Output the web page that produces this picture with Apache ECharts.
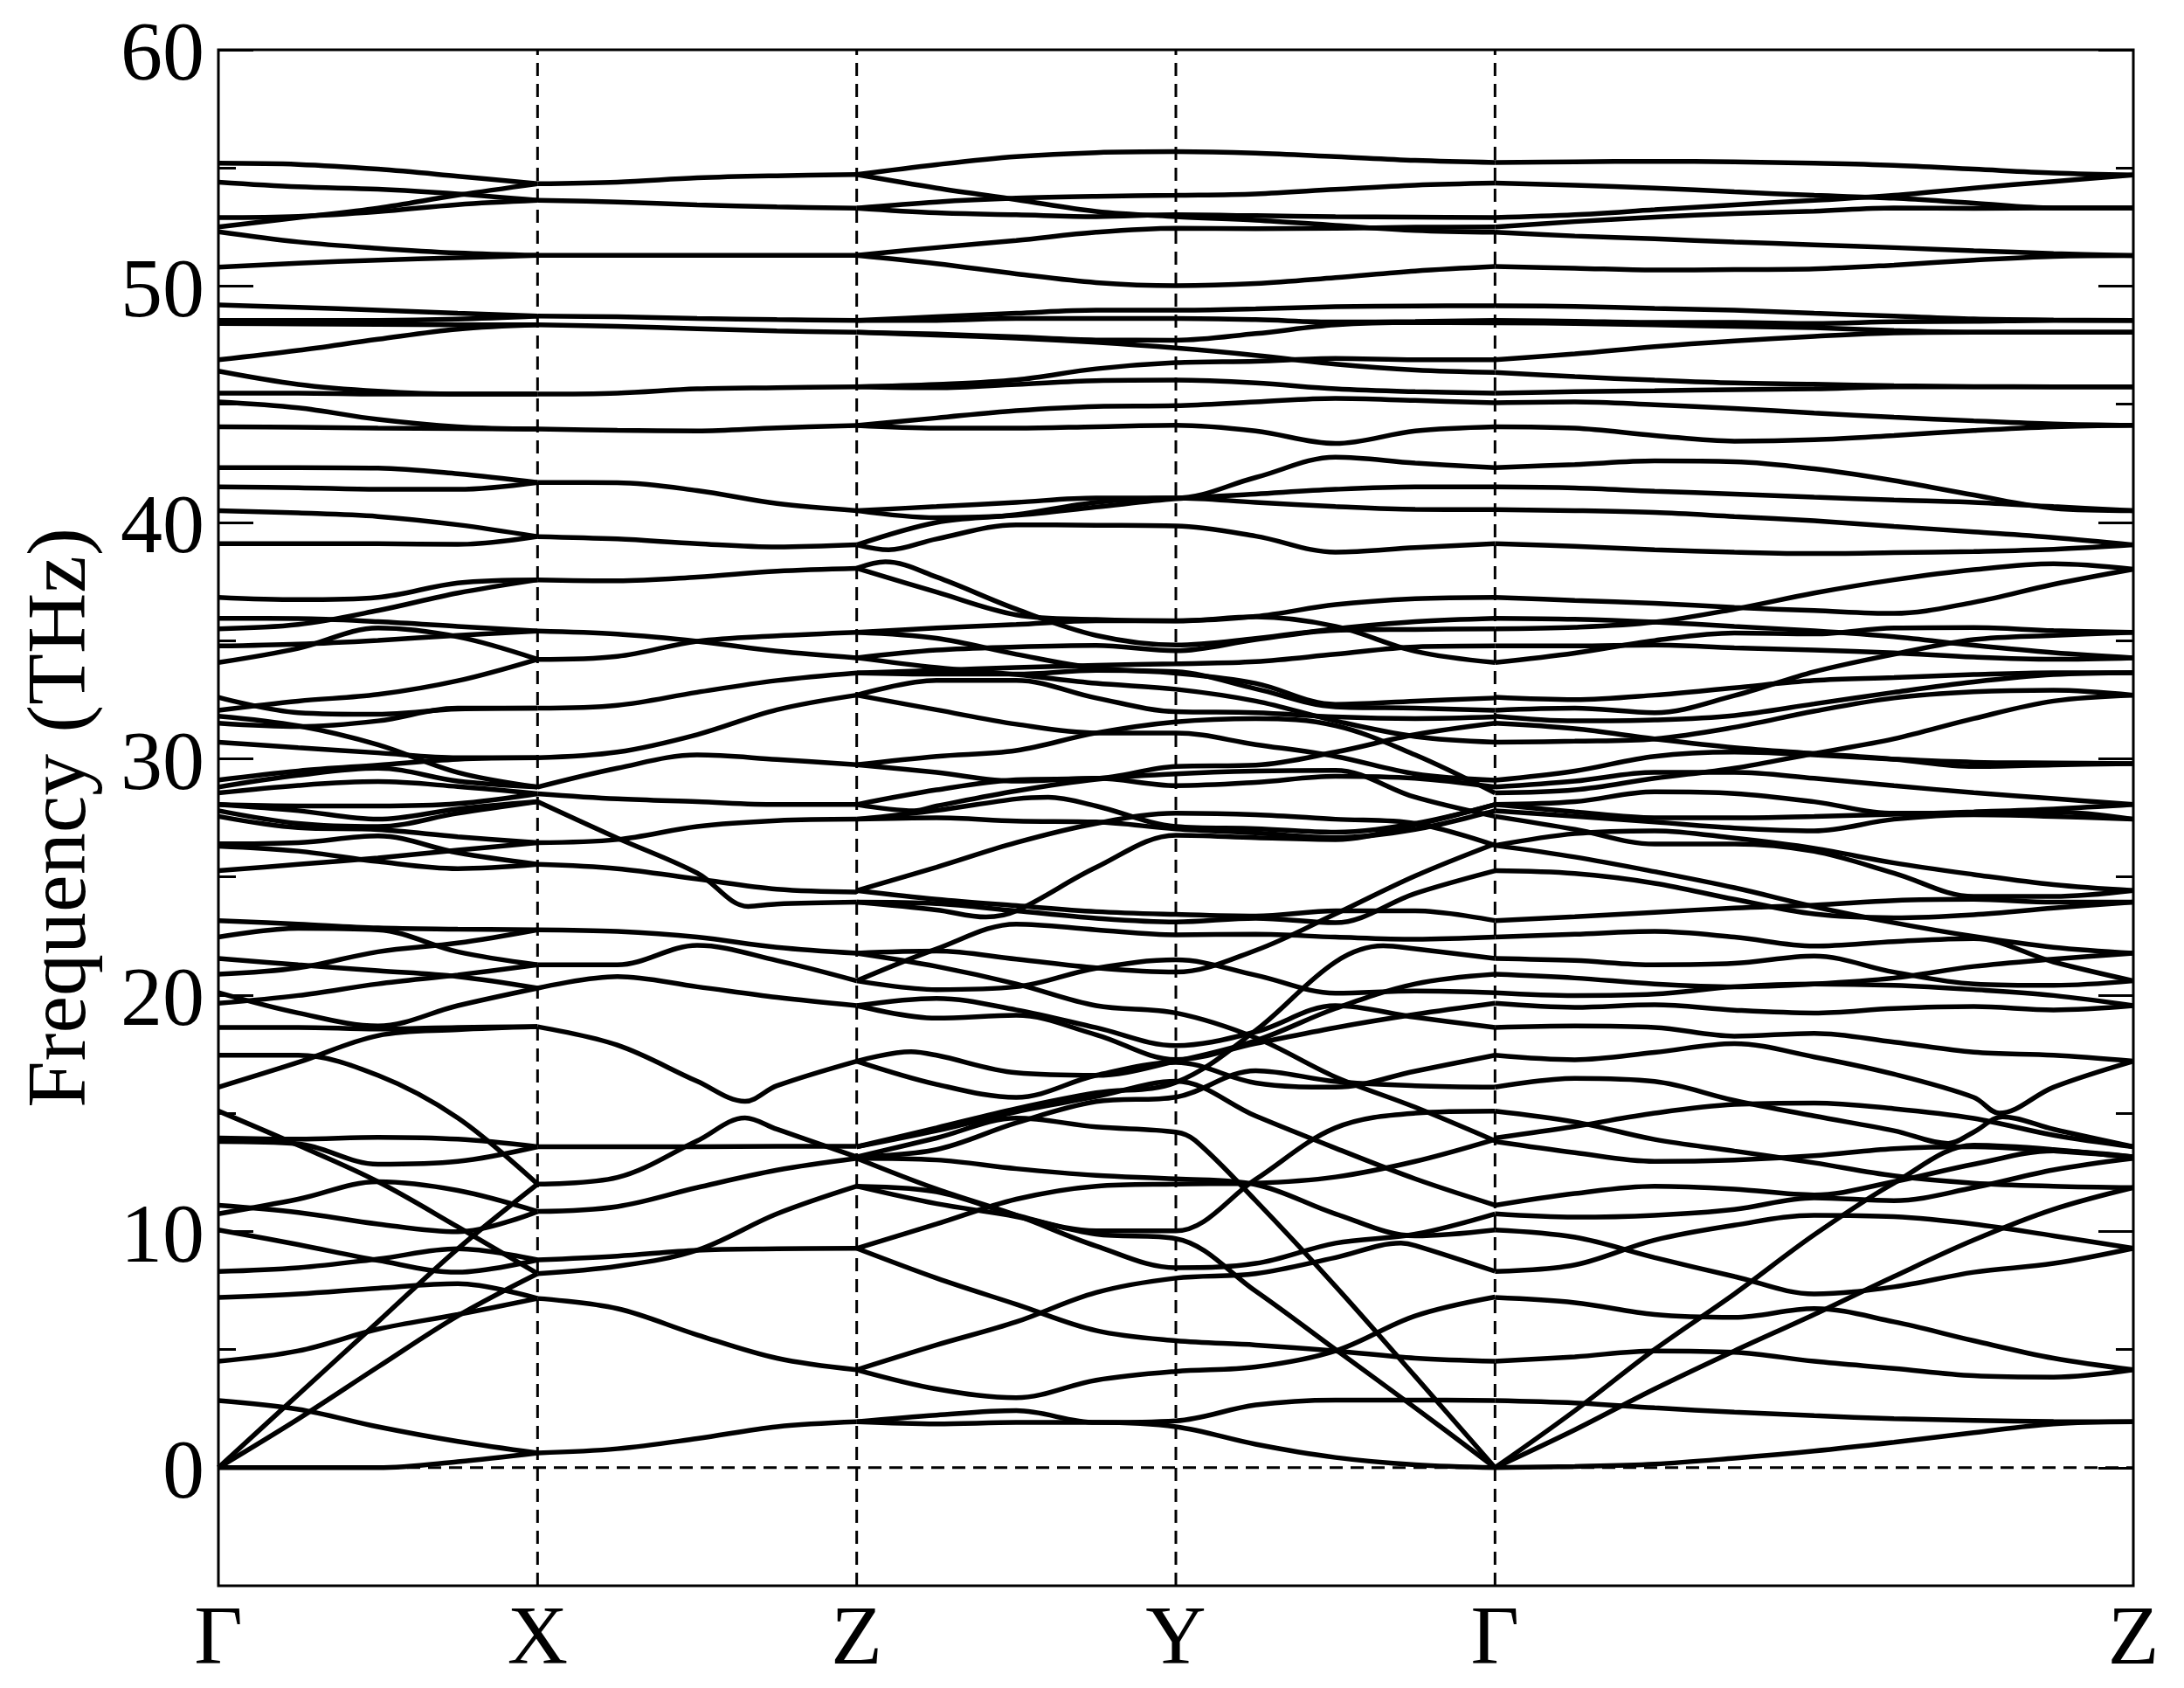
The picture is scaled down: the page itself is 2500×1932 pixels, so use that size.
<!DOCTYPE html>
<html lang="en">
<head>
	<meta charset="UTF-8">
	<title>Phonon band structure</title>
	<style>
		html,body{margin:0;padding:0;background:#fff;}
	</style>
</head>
<body>
	<div id="bands" style="width:2500px;height:1932px;"></div>
<script src="https://cdn.jsdelivr.net/npm/echarts@6/dist/echarts.min.js"></script>
<script>
	var kTicks=[0,1,2,3,4,6];
	var kLabels=['Γ','X','Z','Y','Γ','Z'];
	var yMajor=[0,10,20,30,40,50,60];
	var yMinor=[5,15,25,35,45,55];

	// every row is one curve, one value per quarter of a k step
	// a [k,value] pair is an extra point between two grid steps (sharp bends)
	var gammaX=[
		[55.2,55.15,54.95,54.65,54.33],
		[54.4,54.2,54.1,53.9,53.63],
		[52.9,52.95,53.15,53.45,53.63],
		[52.5,52.9,53.3,53.85,54.33],
		[52.3,51.87,51.6,51.4,51.3],
		[50.8,50.97,51.1,51.2,51.3],
		[49.2,49.1,48.98,48.85,48.73],
		[48.55,48.55,48.55,48.6,48.73],
		[48.42,48.4,48.38,48.36,48.36],
		[46.88,47.28,47.75,48.18,48.36],
		[46.4,45.84,45.55,45.43,45.43],
		[45.47,45.47,45.43,45.43,45.43],
		[45.1,44.85,44.36,44.05,43.95],
		[44.05,44.03,43.99,43.97,43.95],
		[42.32,42.32,42.3,42.06,41.69],
		[41.5,41.47,41.4,41.4,41.69],
		[40.5,40.4,40.25,39.9,39.4],
		[39.1,39.1,39.1,39.07,39.4],
		[36.83,36.73,36.83,37.44,37.57],
		[35.5,35.68,36.27,37.01,37.57],
		[35.94,35.93,35.8,35.6,35.4],
		[34.77,34.85,35.01,35.22,35.4],
		[34.07,34.67,35.53,35.16,34.21],
		[32.05,32.44,32.72,33.3,34.21],
		[32.6,31.95,31.88,32.1,32.14],
		[31.5,31.36,31.6,32.14,32.14],
		[31.8,31.39,30.59,29.42,28.8],
		[30.7,30.47,30.25,30.04,30.04],
		[29.1,29.48,29.73,29.98,30.04],
		[28.8,29.3,29.6,29.05,28.8],
		[28.55,28.87,29.03,28.82,28.52],
		[28.06,28.0,28.0,28.1,28.52],
		[28.06,27.8,27.44,27.87,28.18],
		[27.8,27.26,27.13,27.69,28.18],
		[27.56,27.08,27.0,26.7,26.45],
		[25.26,25.53,25.8,26.13,26.45],
		[26.4,26.45,26.73,26.02,25.53],
		[26.3,26.09,25.65,25.35,25.53],
		[23.15,23.0,22.84,22.79,22.76],
		[20.88,21.15,21.83,22.2,22.76],
		[22.45,22.82,22.76,21.83,21.28],
		[19.65,19.98,20.47,20.85,21.28],
		[21.55,21.28,21.03,20.78,20.29],
		[20.1,19.24,18.69,19.55,20.29],
		[18.63,18.63,18.56,18.63,18.66],
		[16.1,17.15,18.28,18.53,18.66],
		[17.45,17.45,16.6,14.8,12.0],
		[0,3.09,6.17,9.26,12.0],
		[15.09,13.64,12.1,10.19,8.21],
		[0,2.06,4.26,6.42,8.21],
		[13.95,13.9,13.98,13.9,13.58],
		[13.8,13.7,12.84,12.96,13.58],
		[11.1,10.8,10.31,9.98,10.84],
		[10.74,11.36,12.1,11.73,10.84],
		[10.06,9.44,8.77,8.27,8.79],
		[8.3,8.46,8.83,9.26,8.79],
		[7.2,7.35,7.59,7.78,7.16],
		[4.5,4.94,5.86,6.48,7.16],
		[2.84,2.47,1.73,1.11,0.62],
		[0,0,0,0.25,0.62]
	];

	var xZ=[
		[54.33,54.4,54.58,54.67,54.72],
		[53.63,53.56,53.44,53.35,53.3],
		[51.3,51.3,51.3,51.3,51.3],
		[48.73,48.7,48.63,48.58,48.55],
		[48.36,48.3,48.2,48.1,48.05],
		[45.43,45.47,45.65,45.7,45.74],
		[43.95,43.9,43.87,44.0,44.1],
		[41.69,41.68,41.35,40.8,40.5],
		[39.4,39.3,39.1,38.96,39.05],
		[37.57,37.53,37.69,37.94,38.06],
		[35.4,35.27,34.97,34.55,34.27],
		[34.2,34.33,34.97,35.2,35.35],
		[32.14,32.26,32.81,33.31,33.63],
		[30.04,30.28,31.02,32.07,32.69],
		[28.8,29.6,30.16,29.97,29.75],
		[28.52,28.3,28.18,28.06,28.06],
		[28.18,26.64,25.16,[1.66,23.75],23.85,23.93],
		[26.45,26.58,27.13,27.38,27.44],
		[25.53,25.35,24.91,24.48,24.36],
		[22.76,22.69,22.45,22.02,21.77],
		[21.28,21.28,22.1,21.46,20.6],
		[20.29,20.78,20.35,19.9,19.55],
		[18.66,17.88,16.35,[1.65,15.5],16.16,17.2],
		[12,12.28,13.83,[1.65,14.8],14.32,13.15],
		[8.21,8.52,9.2,10.74,11.91],
		[10.84,11.05,11.85,12.59,13.09],
		[8.79,8.95,9.2,9.26,9.28],
		[7.16,6.73,5.62,4.63,4.14],
		[13.58,13.58,13.58,13.6,13.6],
		[0.62,0.8,1.23,1.73,1.94]
	];

	var zYGamma=[
		[54.72,55.14,55.48,55.65,55.69,55.63,55.48,55.32,55.23],
		[54.72,54.15,53.66,53.16,52.94,52.79,52.57,52.36,52.28],
		[53.3,53.56,53.72,53.8,53.84,53.9,54.09,54.27,54.36],
		[53.3,53.1,53.02,52.94,53.02,52.98,52.94,52.92,52.9],
		[51.3,51.63,51.93,52.28,52.45,52.43,52.45,52.49,52.5],
		[51.3,50.95,50.52,50.15,50.02,50.11,50.36,50.64,50.83],
		[48.55,48.7,48.85,48.98,48.98,49.04,49.13,49.16,49.17],
		[48.55,48.55,48.63,48.63,48.63,48.58,48.48,48.5,48.55],
		[48.05,47.93,47.8,47.62,47.38,47.07,46.7,46.45,46.35],
		[48.05,47.97,47.85,47.72,47.71,47.99,48.36,48.46,48.45],
		[45.74,45.84,46.03,46.5,46.76,46.82,46.94,46.88,46.88],
		[45.74,45.7,45.84,46.0,46.02,45.9,45.65,45.53,45.47],
		[44.1,44.42,44.73,44.91,44.94,45.1,45.25,45.16,45.06],
		[44.1,43.99,43.99,44.05,44.11,43.87,43.34,43.87,44.05],
		[40.5,40.67,40.85,41.03,41.03,41.9,42.76,42.51,42.32],
		[40.5,40.2,40.3,40.65,41.0,41.2,41.4,41.5,41.5],
		[39.05,40.0,40.33,40.85,41.03,40.85,40.67,40.55,40.54],
		[39.05,[2.1,38.84],39.3,39.9,39.88,39.85,39.42,38.74,38.93,39.1],
		[38.06,[2.09,38.33],37.69,36.33,35.22,34.81,35.09,35.5,35.8,35.94],
		[38.06,37.05,36.09,35.89,35.83,36.0,35.6,34.55,34.07],
		[35.35,35.53,35.68,35.84,35.84,36.02,36.52,36.77,36.83],
		[34.27,34.6,34.73,34.79,34.57,35.04,35.43,35.47,35.5],
		[35.35,35.1,34.42,33.83,33.62,33.19,32.3,32.44,32.57],
		[34.27,33.86,33.56,33.19,32.94,32.44,31.6,30.94,30.7],
		[33.63,33.74,33.86,33.95,34.02,34.11,34.42,34.73,34.77],
		[33.63,33.58,33.58,33.74,33.68,32.96,32.2,32.14,32.05],
		[32.69,33.31,33.31,32.57,31.99,31.95,31.77,31.7,31.77],
		[32.69,32.07,31.46,31.09,31.09,30.6,30.1,29.36,29.09],
		[29.75,30.1,30.35,31.09,31.56,31.7,31.4,30.16,28.55],
		[29.75,29.42,29.05,29.17,28.86,29.0,29.26,29.17,28.8],
		[28.06,28.68,29.11,29.17,29.67,29.73,30.28,31.02,31.5],
		[28.06,[2.18,27.8],28.0,28.64,29.13,29.36,29.48,29.51,28.37,27.56],
		[27.44,27.81,28.3,[2.6,28.37],28.0,27.13,27.04,26.89,27.26,28.06],
		[27.44,27.5,27.36,27.32,27.03,26.86,26.66,27.01,27.8],
		[24.42,25.41,26.45,27.26,27.69,27.63,27.44,27.26,26.33],
		[24.42,24.05,23.78,23.53,23.41,23.34,23.56,23.56,23.15],
		[23.93,23.6,[2.405,23.3],23.56,25.4,26.76,26.66,26.58,27.2,28.06],
		[23.93,23.87,23.56,23.25,23.09,23.25,23.06,24.3,25.26],
		[21.77,21.86,21.52,21.15,20.97,21.89,23.43,25.04,26.4],
		[21.77,21.21,20.47,19.55,19.24,18.19,16.53,15.25,13.83],
		[20.6,21.95,23.0,22.76,22.55,22.57,22.45,22.36,22.45],
		[20.6,20.23,20.35,21.13,21.49,20.84,20.08,20.17,20.1],
		[19.55,19.86,19.37,18.62,17.86,18.44,19.55,19.06,18.63],
		[19.55,19.02,19.14,18.32,17.27,17.95,18.62,19.18,19.65],
		[17.2,[2.17,17.6],17.45,16.71,16.6,17.2,18.07,19.43,20.47,20.88],
		[17.2,16.22,15.67,16.6,17.15,16.28,16.1,16.78,17.45],
		[13.58,14.26,15.06,15.7,16.35,14.88,13.52,12.22,11.11],
		[13.58,14.38,15.19,15.86,16.3,18.5,21.4,[3.65,22.08],21.95,21.55],
		[13.15,13.46,14.59,15.49,15.68,16.8,16.34,16.16,16.1],
		[13.15,13.95,14.79,14.42,14.2,[3.06,13.85],11.3,7.68,3.86,0],
		[13.09,13.02,12.65,12.37,12.22,11.98,10.74,9.81,10.06],
		[13.09,11.79,10.68,9.38,8.46,8.64,9.5,9.88,10.74],
		[11.91,11.67,10.68,10.02,10.02,12.2,14.38,15.0,15.09],
		[11.91,11.17,10.62,9.88,9.69,7.47,5.0,2.53,0],
		[9.28,10.31,11.36,11.91,12.0,12.04,12.3,12.96,13.89],
		[9.28,8.02,6.91,5.8,5.37,5.19,4.94,4.63,4.5],
		[4.14,5.19,6.17,7.41,8.02,8.21,8.89,[3.705,9.5],9.4,8.31],
		[4.14,3.33,2.96,3.7,4.07,4.26,4.94,6.42,7.22],
		[1.94,2.22,2.41,1.91,1.98,2.65,2.86,2.86,2.84],
		[1.94,1.85,1.91,1.91,1.73,0.99,0.43,0.12,0]
	];

	var gammaZ=[
		[55.23,55.26,55.28,55.26,55.2,55.11,54.95,54.79,54.7],
		[54.36,54.27,54.15,53.99,53.84,53.72,53.51,53.31,53.31],
		[52.9,53.02,53.23,53.44,53.63,53.84,54.15,54.43,54.7],
		[52.5,52.73,52.92,53.07,53.17,53.31,53.29,53.31,53.31],
		[52.28,52.12,52,51.87,51.75,51.63,51.5,51.38,51.29],
		[50.83,50.76,50.68,50.7,50.73,50.89,51.1,51.26,51.29],
		[49.17,49.14,49.06,48.98,48.85,48.73,48.61,48.57,48.55],
		[48.55,48.51,48.46,48.46,48.42,48.49,48.51,48.55,48.55],
		[48.45,48.42,48.36,48.3,48.24,48.12,48.05,48.05,48.05],
		[46.88,47.13,47.44,47.68,47.87,48.02,48.05,48.05,48.05],
		[46.35,46.17,46.02,45.9,45.85,45.78,45.75,45.74,45.74],
		[45.47,45.53,45.57,45.62,45.65,45.74,45.74,45.74,45.74],
		[45.06,45.1,44.98,44.82,44.63,44.45,44.3,44.17,44.11],
		[44.05,43.99,43.68,43.44,43.5,43.68,43.89,44.05,44.11],
		[42.32,42.45,42.6,42.57,42.27,41.77,41.16,40.6,40.5],
		[41.5,41.46,41.32,41.2,41.07,40.95,40.85,40.67,40.5],
		[40.54,40.5,40.42,40.25,40.07,39.83,39.6,39.36,39.05],
		[39.1,38.99,38.84,38.74,38.68,38.72,38.77,38.86,39.05],
		[36.83,36.7,36.58,36.4,36.27,36.15,36.62,37.38,38.02],
		[35.94,35.9,35.78,35.6,35.41,35.16,34.8,34.49,34.27],
		[35.5,35.56,35.78,36.33,37.01,37.57,38.0,38.25,38.02],
		[34.77,34.77,34.81,34.69,34.6,34.48,34.3,34.21,34.27],
		[34.07,34.47,35.0,35.32,35.28,35.53,35.55,35.42,35.35],
		[32.6,32.5,32.69,33.0,33.31,33.43,33.56,33.64,33.64],
		[32.05,32.14,31.95,32.67,33.68,34.42,35.04,35.22,35.35],
		[31.8,31.6,31.64,31.83,32.32,32.81,33.25,33.56,33.64],
		[31.5,31.27,30.84,30.47,30.22,29.98,29.67,29.74,29.79],
		[30.7,30.74,30.84,31.33,32.01,32.57,32.83,32.9,32.69],
		[29.09,29.48,30.1,30.28,30.16,29.98,29.85,29.82,29.79],
		[28.8,29.05,29.42,29.42,29.17,28.86,28.56,28.31,28.06],
		[28.55,28.68,29.17,29.6,30.22,30.84,31.7,32.44,32.69],
		[28.06,28.18,28.6,28.53,28.18,27.69,27.69,27.75,27.44],
		[28.06,27.75,27.5,27.5,27.56,27.65,27.75,27.87,28.06],
		[27.8,27.56,27.32,27.07,26.95,27.44,27.63,27.56,27.44],
		[27.56,27.01,26.39,26.39,26.08,25.16,24.17,24.17,24.42],
		[26.33,26.83,26.95,26.64,26.21,25.59,25.1,24.67,24.42],
		[26.33,25.84,25.22,24.54,23.74,23.06,22.48,22.02,21.77],
		[25.26,25.14,24.73,24.05,23.43,23.27,23.4,23.68,23.93],
		[23.15,23.31,23.5,23.68,23.8,24.0,24.05,23.93,23.93],
		[22.45,22.57,22.69,22.45,22.07,22.26,22.39,21.4,20.6],
		[21.55,21.46,21.28,21.34,21.65,20.97,20.47,20.41,20.6],
		[20.88,20.72,20.47,20.35,20.47,20.72,21.21,21.52,21.77],
		[20.1,19.98,20.04,20.35,20.47,20.41,20.23,19.98,19.55],
		[19.65,19.48,19.59,19.36,19.24,19.43,19.51,19.37,19.55],
		[18.63,18.69,18.63,18.26,18.38,18.01,17.58,17.45,17.2],
		[17.45,17.26,17.57,17.94,17.38,16.65,15.67,[5.58,15.0],16.1,17.2],
		[16.1,16.47,16.34,15.54,14.88,14.26,[5.42,13.72],14.2,[5.59,14.85],14.32,13.58],
		[15.09,14.63,13.89,13.4,12.9,12.35,12.04,11.91,11.85],
		[13.95,14.44,15,15.37,15.43,15.19,14.78,14.07,13.58],
		[13.8,13.33,12.96,13.02,13.2,13.5,13.58,13.4,13.15],
		[11.1,11.6,11.91,11.79,11.54,12.1,12.84,13.4,13.15],
		[10.74,10.6,10.68,10.93,11.42,11.3,11.85,12.6,13.09],
		[10.06,9.75,8.89,8.09,7.35,7.65,8.27,8.64,9.28],
		[8.3,8.58,9.63,10.26,10.68,10.62,10.31,9.81,9.28],
		[7.2,6.98,6.48,6.36,6.73,6.17,5.37,4.63,4.14],
		[4.5,4.69,4.94,4.88,4.5,4.2,3.89,3.83,4.14],
		[2.84,2.74,2.53,2.35,2.2,2.07,2.0,1.95,1.94],
		[0,2.41,5,7.35,9.85,12.04,13.64,13.46,13.11],
		[0,1.6,3.33,4.94,6.48,8.09,9.63,10.93,11.85],
		[0,0.05,0.15,0.4,0.7,1.07,1.48,1.85,1.94]
	];

	// turn one row into [k,value] points, starting at k0
	function toPoints(row,k0){
		var pts=[];
		var n=0;
		for(var i=0;i<row.length;i++){
			if (Array.isArray(row[i])) {
				pts.push(row[i]);
			} else {
				pts.push([k0+n*0.25,row[i]]);
				n++;
			}
		}
		return pts;
	}

	function bandSeries(rows,k0){
		return rows.map(function(row){
			return {
				type:'line',
				data:toPoints(row,k0),
				showSymbol:false,
				smooth:0.35,
				lineStyle:{color:'#000',width:5.5},
				silent:true,
				z:3
			};
		});
	}

	function guide(pts){
		return {
			type:'line',
			data:pts,
			showSymbol:false,
			lineStyle:{color:'#000',width:3,type:[15,9]},
			silent:true,
			z:2
		};
	}

	function yAxisOf(pos,ticks,len,labels){
		return {
			type:'value',
			position:pos,
			min:-5,
			max:60,
			interval:5,
			splitLine:{show:false},
			axisLine:{show:false},
			axisTick:{show:true,inside:true,length:len,customValues:ticks,lineStyle:{color:'#000',width:3}},
			axisLabel:labels?{show:true,customValues:yMajor,fontFamily:'Liberation Serif',fontSize:96,color:'#000',margin:16,verticalAlign:'top',lineHeight:18}:{show:false}
		};
	}

	var series=[];
	series=series.concat(bandSeries(gammaX,0),bandSeries(xZ,1),bandSeries(zYGamma,2),bandSeries(gammaZ,4));
	for(var i=1;i<kTicks.length-1;i++){
		series.push(guide([[kTicks[i],-5],[kTicks[i],60]]));
	}
	series.push(guide([[kTicks[0],0],[kTicks[kTicks.length-1],0]]));

	var chart=echarts.init(document.getElementById('bands'),null,{renderer:'canvas'});
	var left=yAxisOf('left',yMajor,40,true);
	left.name='Frequency (THz)';
	left.nameLocation='middle';
	left.nameRotate=90;
	left.nameGap=130;
	left.nameTextStyle={fontFamily:'Liberation Serif',fontSize:96,color:'#000'};

	chart.setOption({
		animation:false,
		backgroundColor:'#fff',
		grid:{left:250,right:58,top:57,bottom:117,outerBoundsMode:'none',show:true,borderColor:'#000',borderWidth:3,backgroundColor:'transparent'},
		xAxis:{
			type:'value',
			min:0,
			max:6,
			interval:1,
			splitLine:{show:false},
			axisLine:{show:false},
			axisTick:{show:false},
			axisLabel:{
				customValues:kTicks,
				fontFamily:'Liberation Serif',
				fontSize:96,
				color:'#000',
				margin:16,
				formatter:function(v){
					return kLabels[kTicks.indexOf(v)];
				}
			}
		},
		yAxis:[left,yAxisOf('left',yMinor,20,false),yAxisOf('right',yMajor,40,false),yAxisOf('right',yMinor,20,false)],
		series:series
	});
</script>
</body>
</html>
